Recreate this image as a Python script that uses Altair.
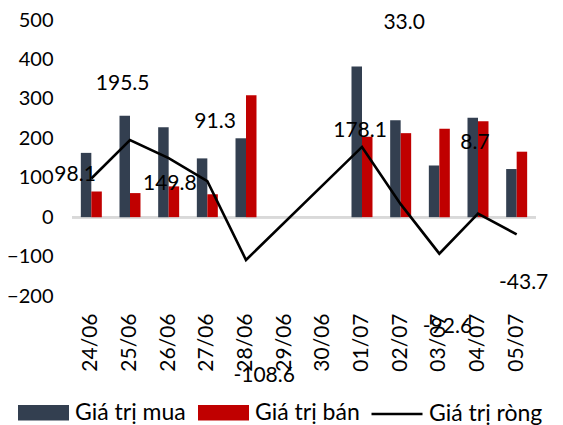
import altair as alt
import pandas as pd

dates = ["24/06", "25/06", "26/06", "27/06", "28/06", "29/06",
         "30/06", "01/07", "02/07", "03/07", "04/07", "05/07"]
mua = [163, 257, 228, 149, 200, None, None, 382, 246, 131, 252, 122]
ban = [65, 61, 78, 58, 309, None, None, 204, 213, 224, 243, 166]
rong = [98.1, 195.5, 149.8, 91.3, -108.6, None, None, 178.1, 33.0, -92.6, 8.7, -43.7]

# label anchors (category index units, value units) as placed in the original
label_x = [-0.42, 0.81, 2.03, 3.20, 4.47, 6.95, 8.09, 9.21, 9.92, 11.18]
label_y = [106, 338, 83, 241, -404, 218, 493, -278, 187, -168]
label_txt = ["98.1", "195.5", "149.8", "91.3", "-108.6", "178.1", "33.0", "-92.6", "8.7", "-43.7"]

S_MUA, S_BAN, S_RONG = "Giá trị mua", "Giá trị bán", "Giá trị ròng"
FONT = "Lato"
FS = 21
YFS = 20
LFS = 23

rows = []
for d, m, b in zip(dates, mua, ban):
    if m is not None:
        rows.append({"date": d, "series": S_MUA, "value": m})
    if b is not None:
        rows.append({"date": d, "series": S_BAN, "value": b})
bars_df = pd.DataFrame(rows)

line_df = pd.DataFrame([{"date": d, "value": v, "series": S_RONG}
                        for d, v in zip(dates, rong) if v is not None])

lab_df = pd.DataFrame({"lx": label_x, "ly": label_y, "txt": label_txt})

xscale = alt.Scale(domain=dates, paddingInner=0.457, paddingOuter=0.2285)
yscale = alt.Scale(domain=[-200, 500], nice=False, zero=False)

x_axis = alt.Axis(title=None, labelAngle=-90, labelFont=FONT, labelFontSize=FS,
                  labelColor="#000000", labelPadding=17, domain=False, ticks=False,
                  grid=False)
y_axis = alt.Axis(title=None, values=[-200, -100, 0, 100, 200, 300, 400, 500],
                  labelFont=FONT, labelFontSize=YFS, labelColor="#000000",
                  labelPadding=19, domain=False, ticks=False, grid=False)

zero = alt.Chart(bars_df).mark_rule(color="#D9D9D9", strokeWidth=2).encode(
    y=alt.datum(0, scale=yscale, axis=y_axis)
)

bars = alt.Chart(bars_df).mark_bar().encode(
    x=alt.X("date:N", sort=dates, scale=xscale, axis=x_axis),
    xOffset=alt.XOffset("series:N", sort=[S_MUA, S_BAN],
                        scale=alt.Scale(domain=[S_MUA, S_BAN])),
    y=alt.Y("value:Q", scale=yscale, axis=y_axis),
    color=alt.Color("series:N",
                    scale=alt.Scale(domain=[S_MUA, S_BAN], range=["#333F50", "#C00000"]),
                    legend=alt.Legend(orient="none", legendX=-54, legendY=367,
                                      direction="horizontal", title=None,
                                      symbolType="M-1,-0.3H1V0.3H-1Z", symbolSize=2601,
                                      symbolStrokeWidth=0, symbolOpacity=1,
                                      labelFont=FONT, labelFontSize=LFS,
                                      labelColor="#000000", labelOffset=6,
                                      columnPadding=12, padding=0, labelLimit=300)),
)

line = alt.Chart(line_df).mark_line(strokeWidth=2.6).encode(
    x=alt.X("date:N", sort=dates, scale=xscale, axis=x_axis),
    y=alt.Y("value:Q", scale=yscale, axis=y_axis),
    stroke=alt.Stroke("series:N",
                      scale=alt.Scale(domain=[S_RONG], range=["#000000"]),
                      legend=alt.Legend(orient="none", legendX=298, legendY=367,
                                        title=None, symbolType="stroke",
                                        symbolSize=2601, symbolStrokeWidth=2.5,
                                        labelFont=FONT, labelFontSize=LFS,
                                        labelColor="#000000", labelOffset=5,
                                        padding=0, labelLimit=300)),
)

base = alt.layer(zero, bars, line)

labels = alt.Chart(lab_df).mark_text(font=FONT, fontSize=FS, color="#000000",
                                     baseline="middle", align="center").encode(
    x=alt.X("lx:Q", scale=alt.Scale(domain=[-0.5, 11.5], nice=False, zero=False), axis=None),
    y=alt.Y("ly:Q", scale=yscale, axis=y_axis),
    text="txt:N",
)

chart = alt.layer(base, labels).resolve_scale(x="independent").properties(
    width=464, height=276,
    autosize=alt.AutoSizeParams(type="none"),
    padding={"left": 64, "top": 12, "right": 19, "bottom": 129},
).configure_view(stroke=None)

chart.save("out.html", embed_options={"renderer": "svg", "actions": False})
